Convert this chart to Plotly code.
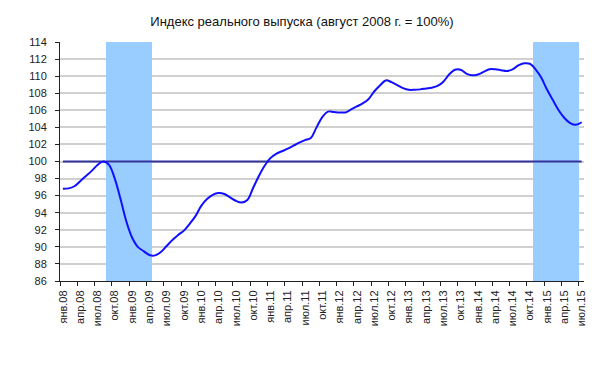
import plotly.graph_objects as go

# ---- data ----
years = [2008, 2009, 2010, 2011, 2012, 2013, 2014, 2015]
month_abbr = ["янв", "фев", "мар", "апр", "май", "июн", "июл", "авг", "сен", "окт", "ноя", "дек"]

# Index of real output, monthly, Jan 2008 .. Jul 2015 (Aug 2008 = 100)
output_index = [
    96.8, 96.85, 97.1, 97.7, 98.3, 98.9, 99.6, 100.0, 99.6, 98.0, 95.6, 93.0,        # 2008
    91.1, 90.0, 89.5, 89.05, 89.0, 89.4, 90.1, 90.8, 91.4, 91.9, 92.7, 93.6,        # 2009
    94.8, 95.6, 96.1, 96.3, 96.2, 95.8, 95.4, 95.2, 95.5, 96.9, 98.3, 99.5,         # 2010
    100.4, 100.9, 101.2, 101.5, 101.85, 102.2, 102.5, 102.75, 104.0, 105.2, 105.85, 105.8,  # 2011
    105.75, 105.75, 106.1, 106.45, 106.8, 107.3, 108.2, 108.9, 109.5, 109.3, 108.95, 108.6,  # 2012
    108.4, 108.4, 108.45, 108.55, 108.65, 108.85, 109.35, 110.2, 110.75, 110.75, 110.3, 110.1,  # 2013
    110.2, 110.5, 110.8, 110.8, 110.7, 110.6, 110.8, 111.25, 111.5, 111.45, 110.8, 109.8,  # 2014
    108.4, 107.2, 106.0, 105.1, 104.5, 104.3, 104.6,                                  # 2015
]
base_level = 100
# shaded (recession) months: Sep 2008 - Apr 2009, Nov 2014 - Jun 2015 (month index from Jan 2008)
shaded_months = list(range(8, 16)) + list(range(82, 90))
y_min, y_max = 86, 114

# ---- derived ----
n = len(output_index)
months = list(range(n))
labels = [f"{month_abbr[m % 12]}.{str(years[m // 12])[2:]}" for m in months]
# tick marks sit on category boundaries (as in the original), labels shifted to the category
tick_vals = [m - 0.5 for m in months[::3]]
tick_text = labels[::3]

fig = go.Figure()

fig.add_trace(go.Bar(
    x=shaded_months,
    y=[y_max - y_min] * len(shaded_months),
    base=y_min,
    width=1,
    marker=dict(color="#99CCFF", line=dict(width=0)),
    hoverinfo="skip",
    showlegend=False,
))

fig.add_trace(go.Scatter(
    x=months, y=[base_level] * n, mode="lines",
    line=dict(color="#333399", width=2),
    showlegend=False,
))

fig.add_trace(go.Scatter(
    x=months, y=output_index, mode="lines",
    line=dict(color="#1010FF", width=2, shape="spline", smoothing=1.0),
    showlegend=False,
))

font_family = "Liberation Sans, Arial, sans-serif"

# page body has an 8px default margin, so the figure is sized/positioned to compensate
fig.update_layout(
    width=584, height=359,
    margin=dict(l=52, r=8, t=34, b=86, autoexpand=False),
    paper_bgcolor="white", plot_bgcolor="white",
    font=dict(family=font_family, size=11, color="#222222"),
    title=dict(
        text="Индекс реального выпуска (август 2008 г. = 100%)",
        x=294 / 584, xanchor="center", y=1 - 13 / 359, yanchor="middle",
        font=dict(family=font_family, size=13, color="#111111"),
    ),
    showlegend=False,
    bargap=0,
)

fig.update_xaxes(
    range=[-0.5, 90.4],
    tickmode="array", tickvals=tick_vals, ticktext=tick_text,
    tickangle=-90,
    ticklabelshift=3,
    ticks="outside", ticklen=4, tickcolor="#222222",
    showline=True, linecolor="#222222", linewidth=1,
    showgrid=False, zeroline=False,
    tickfont=dict(size=11),
    automargin=False,
)

fig.update_yaxes(
    range=[y_min, y_max], dtick=2,
    ticks="outside", ticklen=4, tickcolor="#222222",
    showline=True, linecolor="#222222", linewidth=1,
    showgrid=True, gridcolor="#D0D0D0", gridwidth=1.5,
    zeroline=False,
    tickfont=dict(size=11),
    ticklabelstandoff=6,
    automargin=False,
)

fig.write_html("out.html")
